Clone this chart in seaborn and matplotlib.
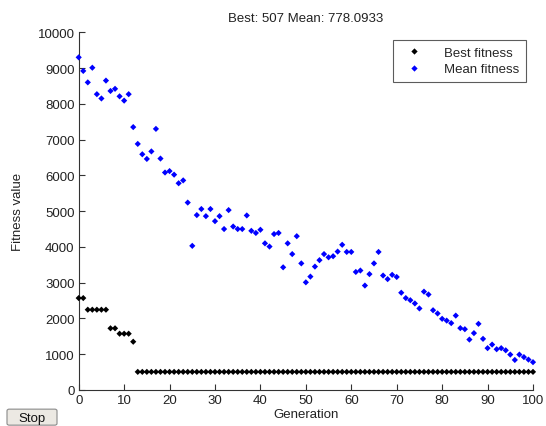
import matplotlib
matplotlib.use("Agg")
import matplotlib.pyplot as plt
import seaborn as sns
import pandas as pd
import numpy as np
from matplotlib.patches import FancyBboxPatch
from matplotlib.lines import Line2D

generations = list(range(0, 101))

best_fitness = ([2570, 2570] + [2245] * 5 + [1725] * 2 + [1574] * 3 + [1350]
                + [507] * 88)

mean_fitness = [
    9300, 8920, 8600, 9010, 8270, 8150, 8650, 8360, 8420, 8210,
    8090, 8270, 7350, 6880, 6590, 6460, 6670, 7300, 6470, 6080,
    6120, 6020, 5780, 5860, 5240, 4030, 4890, 5060, 4860, 5060,
    4720, 4860, 4500, 5030, 4570, 4500, 4500, 4880, 4450, 4390,
    4480, 4100, 4010, 4360, 4390, 3430, 4100, 3800, 4300, 3540,
    3010, 3170, 3450, 3630, 3800, 3710, 3740, 3870, 4060, 3860,
    3860, 3300, 3340, 2920, 3240, 3540, 3860, 3200, 3100, 3220,
    3160, 2720, 2570, 2510, 2420, 2280, 2750, 2670, 2230, 2140,
    1990, 1940, 1870, 2080, 1730, 1700, 1410, 1590, 1850, 1430,
    1170, 1270, 1140, 1170, 1110, 990, 840, 990, 920, 850,
    778.0933,
]

series_names = ["Best fitness", "Mean fitness"]
title_text = "Best: 507 Mean: 778.0933"
x_label = "Generation"
y_label = "Fitness value"
x_ticks = [0, 10, 20, 30, 40, 50, 60, 70, 80, 90, 100]
y_ticks = [0, 1000, 2000, 3000, 4000, 5000, 6000, 7000, 8000, 9000, 10000]

df = pd.DataFrame({
    "Generation": generations * 2,
    "Fitness": best_fitness + mean_fitness,
    "Series": [series_names[0]] * len(generations) + [series_names[1]] * len(generations),
})

sns.set_theme(style="white")
plt.rcParams["font.family"] = ["Liberation Sans", "DejaVu Sans"]
plt.rcParams["font.size"] = 9

fig = plt.figure(figsize=(5.46, 4.27), dpi=100)
fig.patch.set_facecolor("white")
ax = fig.add_axes([78.7 / 546, 1 - 391 / 427, (533 - 78.7) / 546, (391 - 33.3) / 427])

sns.scatterplot(data=df, x="Generation", y="Fitness", hue="Series",
                palette={series_names[0]: "black", series_names[1]: "#0000ff"},
                marker="D", s=10, linewidth=0, ax=ax, legend=False, zorder=3)
for coll in ax.collections:
    coll.set_clip_on(False)

ax.set_xlim(0, 100)
ax.set_ylim(0, 10000)
ax.set_xticks(x_ticks)
ax.set_yticks(y_ticks)
ax.set_xticklabels([str(t) for t in x_ticks], fontsize=9.5, color="#222222")
ax.set_yticklabels([str(t) for t in y_ticks], fontsize=9.5, color="#222222")
ax.tick_params(axis="both", direction="in", length=4, width=0.8, color="#333333",
               pad=3, bottom=True, left=True)
for side in ["top", "right"]:
    ax.spines[side].set_visible(False)
for side in ["left", "bottom"]:
    ax.spines[side].set_color("#333333")
    ax.spines[side].set_linewidth(0.8)
    ax.spines[side].set_zorder(1)

ax.set_title(title_text, fontsize=9.5, color="#222222", pad=8)
ax.set_xlabel(x_label, fontsize=9.5, color="#222222", labelpad=1)
ax.set_ylabel(y_label, fontsize=9.5, color="#222222", labelpad=10)

handles = [Line2D([], [], linestyle="none", marker="D", markersize=3.2,
                  color="black", markeredgewidth=0),
           Line2D([], [], linestyle="none", marker="D", markersize=3.2,
                  color="#0000ff", markeredgewidth=0)]
leg = ax.legend(handles, series_names, loc="upper right",
                bbox_to_anchor=(1 - 7 / (533 - 78.7), 1 - 7.4 / (391 - 33.3)),
                frameon=True, fancybox=False, fontsize=9.5, borderpad=0.5,
                handlelength=2.2, handletextpad=1.2, labelspacing=0.35,
                borderaxespad=0)
leg.get_frame().set_edgecolor("#333333")
leg.get_frame().set_linewidth(0.8)

# Stop button
btn = FancyBboxPatch((7 / 546, 0.002), 50 / 546, 16 / 427,
                     boxstyle="round,pad=0,rounding_size=0.004",
                     transform=fig.transFigure, facecolor="#ece9e3",
                     edgecolor="#8a8a8a", linewidth=0.8)
fig.patches.append(btn)
fig.text(32 / 546, 1 - 419 / 427, "Stop", ha="center", va="center",
         fontsize=9.5, color="#111111")

fig.savefig("out.png", dpi=100)
